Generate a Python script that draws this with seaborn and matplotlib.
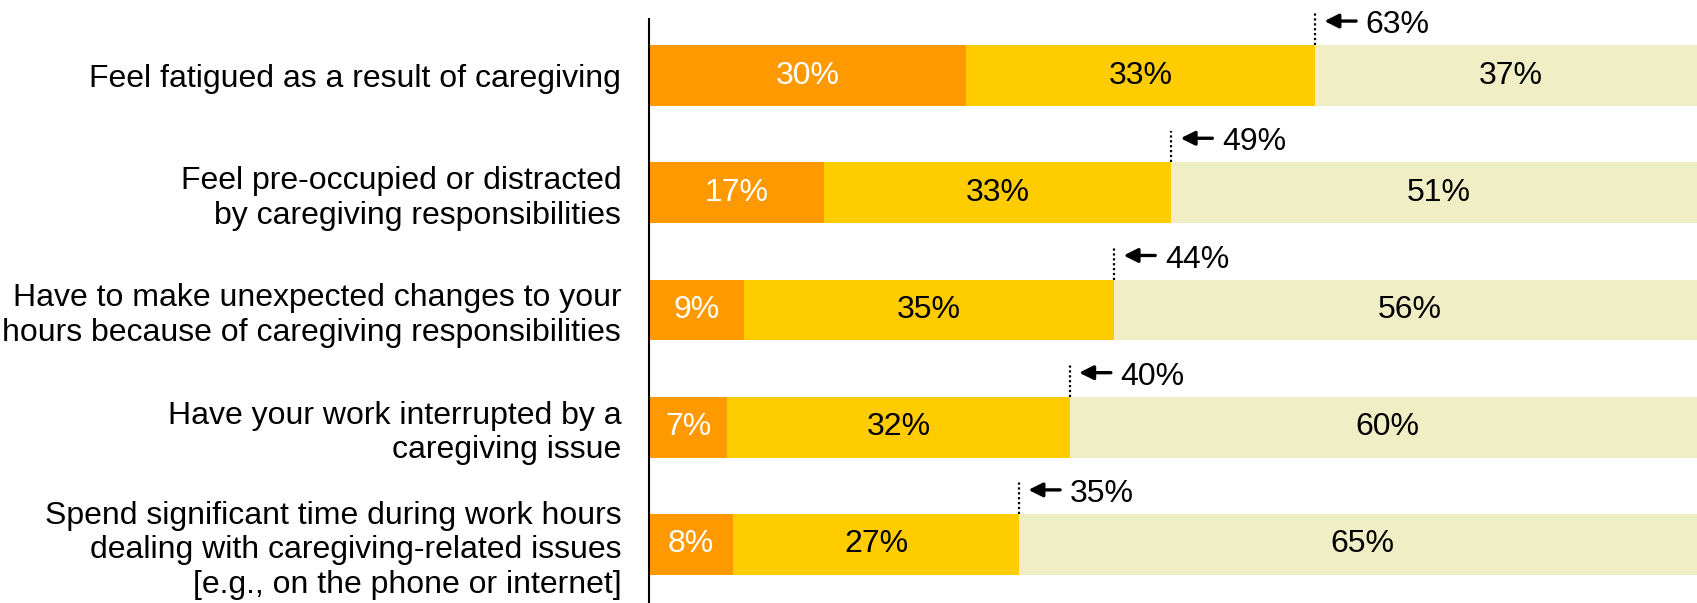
import matplotlib
matplotlib.use("Agg")
import matplotlib.pyplot as plt
import seaborn as sns
import pandas as pd
from matplotlib import font_manager

statements = [
    "Feel fatigued as a result of caregiving",
    "Feel pre-occupied or distracted\nby caregiving responsibilities",
    "Have to make unexpected changes to your\nhours because of caregiving responsibilities",
    "Have your work interrupted by a\ncaregiving issue",
    "Spend significant time during work hours\ndealing with caregiving-related issues\n[e.g., on the phone or internet]",
]
very_often = [30.0, 16.6, 9.0, 7.4, 8.0]
sometimes = [33.0, 32.8, 35.0, 32.4, 27.0]
rarely_never = [37.0, 50.6, 56.0, 60.2, 65.0]

ORANGE = "#FF9900"
YELLOW = "#FFCC00"
PALE = "#F0EEC4"

sns.set_theme(style="white")
names = {f.name for f in font_manager.fontManager.ttflist}
family = "Liberation Sans Narrow" if "Liberation Sans Narrow" in names else "Liberation Sans"
plt.rcParams["font.family"] = [family, "DejaVu Sans"]
plt.rcParams["text.color"] = "black"
plt.rcParams["ytick.color"] = "black"
plt.rcParams["ytick.labelcolor"] = "black"

df = pd.DataFrame({
    "statement": statements,
    "often": very_often,
    "sometimes": sometimes,
    "rest": rarely_never,
})
df["cum_yellow"] = df["often"] + df["sometimes"]
df["cum_all"] = df["cum_yellow"] + df["rest"]

fig = plt.figure(figsize=(16.97, 6.03), dpi=100)
ax = fig.add_axes([0.3824, 0.0, 0.6176, 0.968])

bw = 0.52
sns.barplot(data=df, y="statement", x="cum_all", color=PALE, width=bw,
            saturation=1, ax=ax, orient="h")
sns.barplot(data=df, y="statement", x="cum_yellow", color=YELLOW, width=bw,
            saturation=1, ax=ax, orient="h")
sns.barplot(data=df, y="statement", x="often", color=ORANGE, width=bw,
            saturation=1, ax=ax, orient="h")
for p in ax.patches:
    p.set_edgecolor("none")

fs = 23
for i, row in df.iterrows():
    ax.text(row["often"] / 2, i, f"{row['often']:.0f}%", ha="center", va="center",
            color="white", fontsize=fs)
    ax.text(row["often"] + row["sometimes"] / 2, i, f"{row['sometimes']:.0f}%",
            ha="center", va="center", color="black", fontsize=fs)
    ax.text(row["cum_yellow"] + row["rest"] / 2, i, f"{row['rest']:.0f}%",
            ha="center", va="center", color="black", fontsize=fs)
    total = row["cum_yellow"]
    ytop = i - bw / 2
    ax.plot([total, total], [ytop, ytop - 0.27], ls=(0, (1, 1.2)), color="black",
            lw=1.6, clip_on=False)
    ya = i - 0.465
    ax.annotate("", xy=(total + 0.9, ya), xytext=(total + 3.9, ya),
                arrowprops=dict(arrowstyle="-|>,head_length=0.7,head_width=0.35",
                                color="black", lw=2.4, shrinkA=0, shrinkB=0),
                annotation_clip=False)
    ax.text(total + 4.8, ya + 0.035, f"{total:.0f}%", ha="left", va="center",
            color="black", fontsize=fs, clip_on=False)

ax.set_xlim(0, 99.15)
ax.set_ylim(4.5, -0.48)
ax.set_xlabel("")
ax.set_ylabel("")
ax.set_xticks([])
ax.tick_params(axis="y", length=0, pad=20, labelsize=fs, labelcolor="black")
for lbl in ax.get_yticklabels():
    lbl.set_horizontalalignment("right")
    lbl.set_color("black")
for s in ["top", "right", "bottom"]:
    ax.spines[s].set_visible(False)
ax.spines["left"].set_color("black")
ax.spines["left"].set_linewidth(1.5)
ax.spines["left"].set_zorder(5)

fig.savefig("out.png", dpi=100, facecolor="white")
